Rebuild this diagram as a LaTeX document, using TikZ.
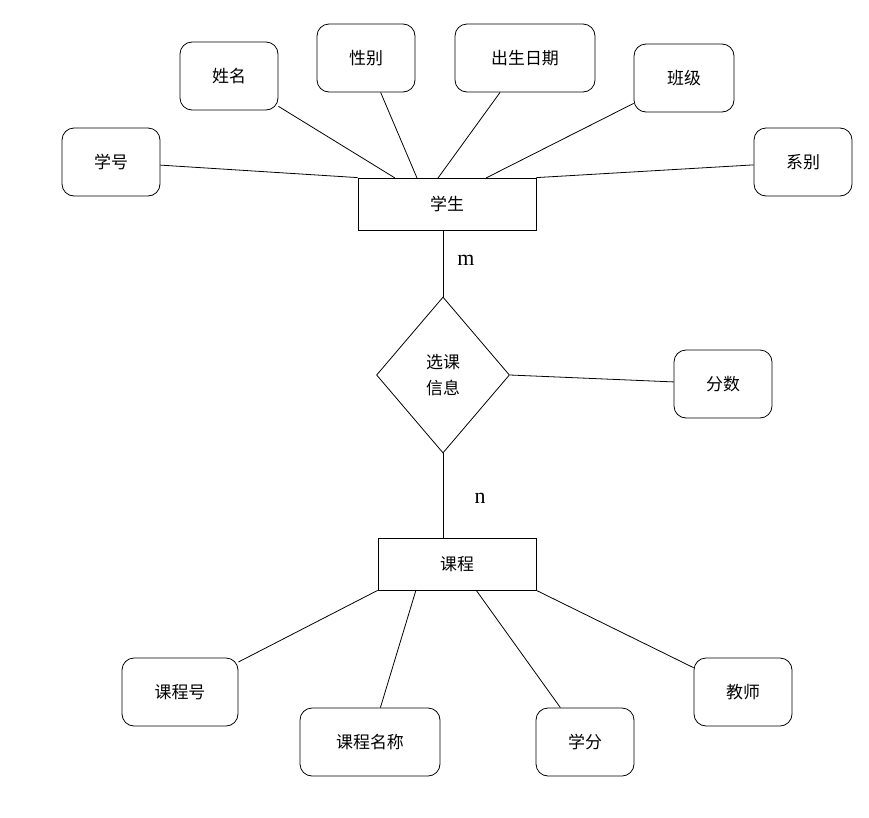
\documentclass[tikz,border=0pt]{standalone}
\usepackage{fontspec}
\setmainfont{Noto Sans CJK SC}
\newfontfamily\latinfont{Liberation Serif}
\usetikzlibrary{shapes.geometric}
\tikzset{
  attr/.style={draw,rounded corners=12bp,minimum width=98bp,minimum height=68bp,inner sep=2bp,font=\fontsize{17}{22}\selectfont},
  entity/.style={draw,minimum height=52bp,inner sep=2bp,font=\fontsize{17}{22}\selectfont},
  rel/.style={draw,diamond,minimum width=133bp,minimum height=156bp,inner sep=0bp,align=center,font=\fontsize{17}{26}\selectfont},
  card/.style={font=\latinfont\fontsize{22}{24}\selectfont}
}
\begin{document}
\begin{tikzpicture}[line width=0.8pt]
\useasboundingbox (0bp,0bp) rectangle (869bp,-818bp);

\node (stu) at (447bp,-204bp)[entity,minimum width=178bp] {学生};
\node (sno) at (111bp,-162bp)[attr] {学号};
\node (sname) at (229bp,-76bp)[attr] {姓名};
\node (sex) at (366bp,-58bp)[attr] {性别};
\node (birth) at (525bp,-58bp)[attr,minimum width=140bp] {出生日期};
\node (cls) at (684bp,-78bp)[attr,minimum width=100bp] {班级};
\node (dept) at (803bp,-162bp)[attr] {系别};

\node (sel) at (443bp,-375bp)[rel] {选课\\信息};
\node (score) at (723bp,-384bp)[attr] {分数};

\node (crs) at (457bp,-564bp)[entity,minimum width=158bp] {课程};
\node (cno) at (180bp,-692bp)[attr,minimum width=116bp] {课程号};
\node (cname) at (370bp,-742bp)[attr,minimum width=140bp] {课程名称};
\node (credit) at (585bp,-742bp)[attr] {学分};
\node (teacher) at (743bp,-692bp)[attr] {教师};

\node (m) at (466bp,-260bp)[card] {m};
\node (n) at (480bp,-498bp)[card] {n};

\draw (sno) -- (stu.north west);
\draw (sname) -- (395bp,-178bp);
\draw (sex) -- (417bp,-178bp);
\draw (birth) -- (438bp,-178bp);
\draw (cls) -- (486bp,-178bp);
\draw (dept) -- (stu.north east);
\draw (sel.north) -- (sel.north |- stu.south);
\draw (sel.south) -- (sel.south |- crs.north);
\draw (sel.east) -- (score);
\draw (crs.south west) -- (cno);
\draw (416bp,-590bp) -- (cname);
\draw (476bp,-590bp) -- (credit);
\draw (crs.south east) -- (teacher);
\end{tikzpicture}
\end{document}
